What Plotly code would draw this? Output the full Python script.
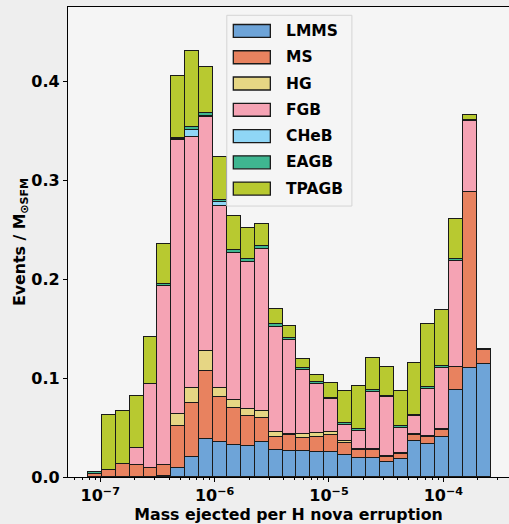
import numpy as np
import plotly.graph_objects as go

# ---------------- data ----------------
series_names = ["LMMS", "MS", "HG", "FGB", "CHeB", "EAGB", "TPAGB"]
series_colors = ["#6ea4d8", "#e8825f", "#e6d684", "#f5a3b4", "#8fd6f6", "#3fb690", "#b8c930"]

# histogram bins (log10 of the mass ejected), 29 bins
log_bin_edges = np.linspace(-7.107, -3.584, 30)

LMMS = [0, 0, 0, 0, 0, 0.001, 0.0094, 0.0202, 0.0384, 0.0357, 0.0327, 0.0316, 0.035, 0.0276,
        0.0263, 0.0263, 0.0256, 0.0249, 0.0226, 0.0195, 0.0195, 0.0152, 0.0178, 0.0364, 0.033,
        0.0404, 0.0875, 0.1104, 0.1145]
MS = [0.003, 0.007, 0.0135, 0.0118, 0.0088, 0.0108, 0.0418, 0.0545, 0.0687, 0.0451, 0.0373,
      0.0304, 0.0243, 0.0128, 0.0158, 0.0134, 0.0148, 0.0179, 0.0117, 0.0081, 0.0081, 0.005,
      0.0051, 0.0057, 0.0074, 0.0067, 0.0236, 0.1775, 0.0134]
HG = [0, 0, 0, 0, 0, 0, 0.0128, 0.0155, 0.0198, 0.0094, 0.0081, 0.0067, 0.0074, 0.0047,
      0.001, 0.0041, 0.004, 0.003, 0.0021, 0.001, 0.001, 0.001, 0.001, 0.001, 0.0014, 0.0014,
      0, 0, 0]
FGB = [0, 0, 0, 0.0175, 0.0855, 0.1808, 0.2767, 0.2532, 0.2367, 0.1832, 0.1485, 0.1481, 0.1639,
       0.1064, 0.0949, 0.0646, 0.0499, 0.033, 0.0165, 0.0175, 0.0569, 0.0596, 0.0259, 0.0185,
       0.0468, 0.0616, 0.1067, 0.0714, 0]
CHeB = [0, 0, 0, 0, 0, 0, 0.001, 0.0074, 0.001, 0.0047, 0, 0, 0, 0, 0, 0, 0, 0, 0, 0, 0, 0,
        0, 0, 0, 0, 0, 0, 0]
EAGB = [0.002, 0, 0, 0, 0, 0.002, 0.001, 0.0027, 0.003, 0.0014, 0.0024, 0.0037, 0.0024, 0.0027,
        0.002, 0.002, 0.0013, 0.0013, 0.0016, 0.002, 0.002, 0.0014, 0.0014, 0.0015, 0.0025,
        0.0025, 0.003, 0.002, 0.0017]
TPAGB = [0, 0.0553, 0.0532, 0.0525, 0.0471, 0.041, 0.0627, 0.0775, 0.0472, 0.0437, 0.0343,
         0.0307, 0.0222, 0.0158, 0.0122, 0.0088, 0.0071, 0.0149, 0.0324, 0.0435, 0.0324,
         0.0289, 0.0357, 0.0521, 0.0638, 0.0558, 0.0395, 0.0047, 0]

series_values = [LMMS, MS, HG, FGB, CHeB, EAGB, TPAGB]

x_tick_vals = [1e-7, 1e-6, 1e-5, 1e-4]
x_tick_text = ["10<sup>\u22127</sup>", "10<sup>\u22126</sup>", "10<sup>\u22125</sup>", "10<sup>\u22124</sup>"]
y_tick_vals = [0.0, 0.1, 0.2, 0.3, 0.4]

x_title = "Mass ejected per H nova erruption"
y_title = "Events / M<sub>\u2299SFM</sub>"

# ---------------- figure ----------------
W, H = 509, 524
L, R, T, B = 68.3, 0, 6.7, 46.7

edges = 10 ** log_bin_edges
centers = (edges[:-1] + edges[1:]) / 2
widths = edges[1:] - edges[:-1]

FONT = "DejaVu Sans"
fig = go.Figure()
for name, color, vals in zip(series_names, series_colors, series_values):
    fig.add_trace(go.Bar(
        x=centers, y=vals, width=widths, name=name,
        marker=dict(color=color, line=dict(color="#1a1a1a", width=1.3)),
        showlegend=False,
    ))

fig.update_layout(
    width=W, height=H,
    margin=dict(l=L, r=R, t=T, b=B, pad=0),
    barmode="stack", bargap=0,
    paper_bgcolor="#eeeeee", plot_bgcolor="#f5f5f5",
    font=dict(family=FONT, size=16, color="black", weight="bold"),
)
fig.update_xaxes(
    type="log", range=[-7.282, -3.426],
    tickmode="array", tickvals=x_tick_vals, ticktext=x_tick_text,
    ticks="outside", ticklen=4, tickwidth=1, tickcolor="black",
    minor=dict(ticks="outside", ticklen=2, tickcolor="black", dtick="D1", showgrid=False),
    showline=True, linecolor="black", linewidth=1.2, mirror=True,
    showgrid=False, zeroline=False,
    tickfont=dict(size=16, weight="bold"),
    title=dict(text=x_title, font=dict(size=15.8, weight="bold"), standoff=0),
)
fig.update_yaxes(
    range=[0, 0.475], tickmode="array", tickvals=y_tick_vals, tickformat=".1f",
    ticks="outside", ticklen=4, tickwidth=1, tickcolor="black",
    showline=True, linecolor="black", linewidth=1.2, mirror=False,
    showgrid=False, zeroline=False,
    tickfont=dict(size=16, weight="bold"),
    title=dict(text=y_title, font=dict(size=15.8, weight="bold"), standoff=1),
)

# ---------------- manual legend (matplotlib style) ----------------
pw, ph = W - L - R, H - T - B
def px(xp):
    return (xp - L) / pw
def py(yp):
    return (H - B - yp) / ph

shapes = [dict(type="rect", xref="paper", yref="paper",
               x0=px(227), x1=px(352), y0=py(206), y1=py(15),
               fillcolor="rgba(245,245,245,0.85)", line=dict(color="#d4d4d4", width=1),
               layer="above")]
annotations = []
row0, step = 30.7, 26.3
for i, (name, color) in enumerate(zip(series_names, series_colors)):
    yc = row0 + i * step
    shapes.append(dict(type="rect", xref="paper", yref="paper",
                       x0=px(233.5), x1=px(270.5), y0=py(yc + 6.5), y1=py(yc - 6.5),
                       fillcolor=color, line=dict(color="#1a1a1a", width=1.3), layer="above"))
    annotations.append(dict(xref="paper", yref="paper", x=px(284), y=py(yc),
                            xanchor="left", yanchor="middle", text=name, showarrow=False,
                            font=dict(size=15.5, family=FONT, color="black", weight="bold")))
fig.update_layout(shapes=shapes, annotations=annotations)

fig.write_html("out.html")
